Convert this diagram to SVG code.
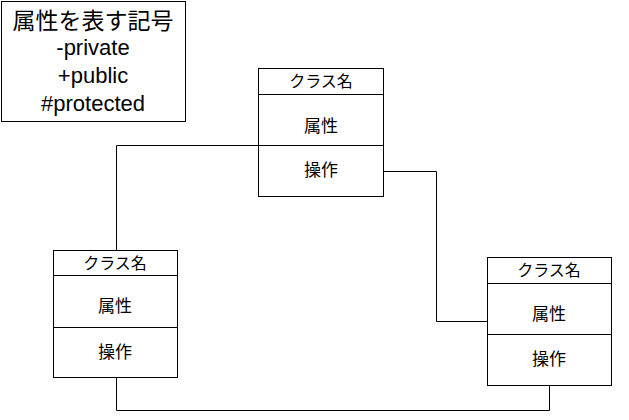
<svg xmlns="http://www.w3.org/2000/svg" width="629" height="420" viewBox="0 0 629 420">
<style>
.b{fill:#fff;stroke:#000;stroke-width:1}
.l{fill:none;stroke:#000;stroke-width:1}
text{font-family:"Liberation Sans","Noto Sans CJK JP",sans-serif;fill:#000;text-anchor:middle}
.h{font-size:16px}
.m{font-size:17px}
.t{font-size:23px}
.s{font-size:22px}
</style>
<rect width="629" height="420" fill="#fff"/>
<g id="connectors">
<polyline class="l" points="116.5,250 116.5,145.5 258,145.5"/>
<polyline class="l" points="384,171.5 436.5,171.5 436.5,321.5 487,321.5"/>
<polyline class="l" points="116.5,378 116.5,410.5 549.5,410.5 549.5,386"/>
</g>
<g id="legend">
<rect class="b" x="1.5" y="1.5" width="184" height="120"/>
<text class="t" x="93" y="29">属性を表す記号</text>
<text class="s" x="93" y="55">-private</text>
<text class="s" x="93" y="83">+public</text>
<text class="s" x="93" y="111">#protected</text>
</g>
<g id="class-top">
<rect class="b" x="258.5" y="68.5" width="125" height="128"/>
<line class="l" x1="258.5" y1="94.5" x2="383.5" y2="94.5"/>
<line class="l" x1="258.5" y1="145.5" x2="383.5" y2="145.5"/>
<text class="h" x="321" y="87">クラス名</text>
<text class="m" x="321" y="132">属性</text>
<text class="m" x="321" y="176">操作</text>
</g>
<g id="class-left">
<rect class="b" x="53.5" y="250.5" width="124" height="127"/>
<line class="l" x1="53.5" y1="275.5" x2="177.5" y2="275.5"/>
<line class="l" x1="53.5" y1="327.5" x2="177.5" y2="327.5"/>
<text class="h" x="115" y="269">クラス名</text>
<text class="m" x="115" y="312">属性</text>
<text class="m" x="115" y="358">操作</text>
</g>
<g id="class-right">
<rect class="b" x="487.5" y="257.5" width="124" height="128"/>
<line class="l" x1="487.5" y1="283.5" x2="611.5" y2="283.5"/>
<line class="l" x1="487.5" y1="334.5" x2="611.5" y2="334.5"/>
<text class="h" x="549" y="276">クラス名</text>
<text class="m" x="549" y="320">属性</text>
<text class="m" x="549" y="365">操作</text>
</g>
</svg>
